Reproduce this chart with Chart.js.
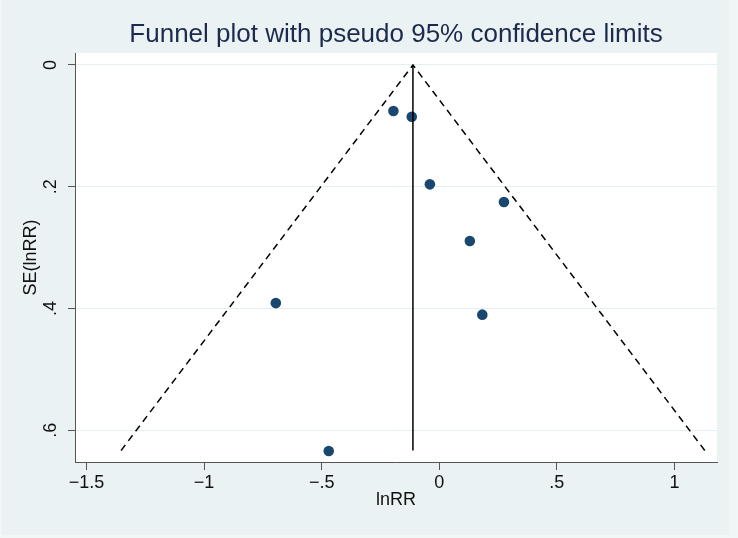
<!DOCTYPE html>
<html>
<head>
<meta charset="utf-8">
<script src="https://cdn.jsdelivr.net/npm/chart.js@4/dist/chart.umd.min.js"></script>
<style>
html,body{margin:0;padding:0;background:#EAF2F3;}
canvas{display:block;}
</style>
</head>
<body>
<canvas id="c" width="738" height="538"></canvas>
<script>
// ---- data ----
const studyLnRR = [-0.195, -0.117, -0.040, 0.275, 0.130, -0.695, 0.183, -0.470];
const studySE   = [0.0755, 0.085, 0.196, 0.225, 0.289, 0.391, 0.410, 0.634];
const funnelX   = [-1.353, -0.112, 1.129];
const funnelY   = [0.633, 0, 0.633];
const pooledX   = [-0.112, -0.112];
const pooledY   = [0, 0.633];
const xTicks    = [-1.5, -1, -0.5, 0, 0.5, 1];
const yTicks    = [0, 0.2, 0.4, 0.6];
const titleText = 'Funnel plot with pseudo 95% confidence limits';
const xTitle    = 'lnRR';
const yTitle    = 'SE(lnRR)';

const FONT = "'Liberation Sans', Arial, Helvetica, sans-serif";
Chart.defaults.font.family = FONT;

function fmt(v){
  if (Math.abs(v) < 1e-9) return '0';
  let s = String(Math.abs(v)).replace(/^0\./, '.');
  return (v < 0 ? '\u2212' : '') + s;
}
const pts = (xs, ys) => xs.map((x, i) => ({x, y: ys[i]}));

const bgPlugin = {
  id: 'bg',
  beforeDraw(chart){
    const {ctx, chartArea: a} = chart;
    ctx.save();
    ctx.fillStyle = '#F1F6F7';
    ctx.fillRect(0, 0, chart.width, chart.height);
    ctx.fillStyle = '#EAF2F3';
    ctx.fillRect(2, 0, 727, 535);
    ctx.fillStyle = '#FFFFFF';
    ctx.fillRect(a.left, a.top, a.right - a.left, a.bottom - a.top);
    ctx.restore();
  },
  afterDraw(chart){
    const {ctx, chartArea: a} = chart;
    const ys = chart.scales.y;
    ctx.save();
    // title
    ctx.fillStyle = '#1C2A4E';
    ctx.font = '26px ' + FONT;
    ctx.textAlign = 'center';
    ctx.textBaseline = 'alphabetic';
    ctx.fillText(titleText, (a.left + a.right) / 2, 42);
    // rotated y tick labels
    ctx.fillStyle = '#111';
    ctx.font = '18px ' + FONT;
    ctx.textBaseline = 'middle';
    ys.ticks.forEach(t => {
      const py = ys.getPixelForValue(t.value);
      ctx.save();
      ctx.translate(51, py);
      ctx.rotate(-Math.PI / 2);
      ctx.fillText(fmt(t.value), 0, 0);
      ctx.restore();
    });
    ctx.restore();
  }
};

new Chart(document.getElementById('c'), {
  type: 'scatter',
  data: {
    datasets: [
      {
        label: 'funnel',
        data: pts(funnelX, funnelY),
        showLine: true,
        borderColor: '#000',
        borderWidth: 1.5,
        borderDash: [7, 5],
        pointRadius: 0,
        fill: false
      },
      {
        label: 'pooled',
        data: pts(pooledX, pooledY),
        showLine: true,
        borderColor: '#000',
        borderWidth: 1.5,
        pointRadius: 0,
        fill: false
      },
      {
        label: 'studies',
        data: pts(studyLnRR, studySE),
        backgroundColor: '#1A476F',
        borderColor: '#1A476F',
        pointRadius: 5.3,
        borderWidth: 0
      }
    ]
  },
  options: {
    responsive: false,
    animation: false,
    layout: {padding: {top: 53, right: 21, left: 0, bottom: 0}},
    plugins: {legend: {display: false}, tooltip: {enabled: false}, title: {display: false}},
    scales: {
      x: {
        type: 'linear',
        position: 'bottom',
        min: -1.549,
        max: 1.181,
        afterBuildTicks: s => { s.ticks = xTicks.map(v => ({value: v})); },
        afterFit: s => { s.height = 76; },
        ticks: {
          callback: v => fmt(v),
          color: '#111',
          font: {size: 18},
          padding: 2,
          maxRotation: 0,
          autoSkip: false
        },
        grid: {drawOnChartArea: false, drawTicks: true, tickLength: 8, tickColor: '#555', tickWidth: 1},
        border: {display: true, color: '#555', width: 1},
        title: {display: true, text: xTitle, color: '#111', font: {size: 18}, padding: {top: 0, bottom: 27}}
      },
      y: {
        type: 'linear',
        position: 'left',
        reverse: true,
        min: -0.0197,
        max: 0.652,
        afterBuildTicks: s => { s.ticks = yTicks.map(v => ({value: v})); },
        afterFit: s => { s.width = 75; },
        ticks: {display: false},
        grid: {color: '#E6EFF1', lineWidth: 1, drawTicks: true, tickLength: 7, tickColor: '#555', tickWidth: 1},
        border: {display: true, color: '#555', width: 1},
        title: {display: true, text: yTitle, color: '#111', font: {size: 18}, padding: {top: 20, bottom: 0}}
      }
    }
  },
  plugins: [bgPlugin]
});
</script>
</body>
</html>
